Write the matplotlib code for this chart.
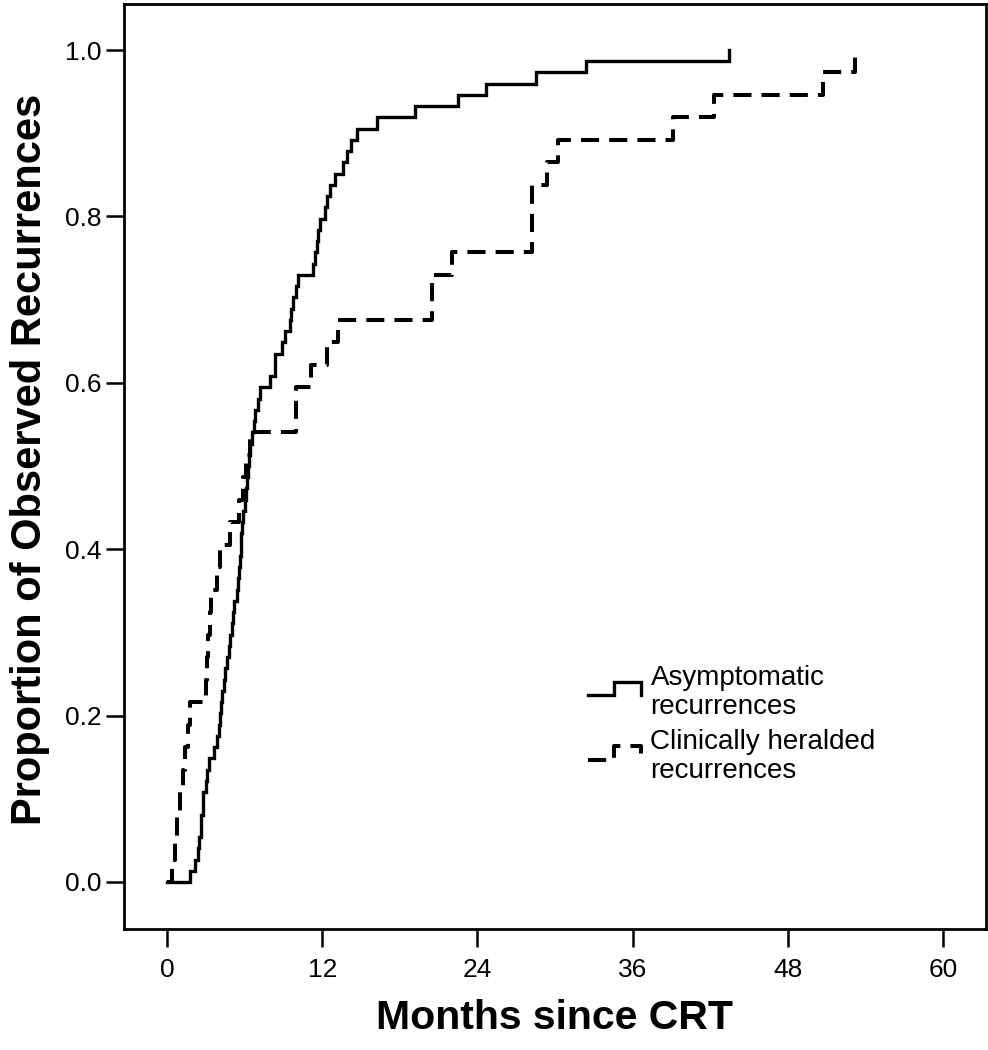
import numpy as np
import matplotlib
matplotlib.use("Agg")
import matplotlib.pyplot as plt
from matplotlib.lines import Line2D
from matplotlib.legend_handler import HandlerBase

# ---- data (months of each observed recurrence) ----
asymptomatic_times = [
    1.8, 2.15, 2.4, 2.5, 2.6, 2.65, 2.75, 2.8, 3.0, 3.1,
    3.25, 3.6, 3.9, 4.0, 4.1, 4.2, 4.25, 4.4, 4.5, 4.65,
    4.8, 4.9, 5.0, 5.1, 5.2, 5.4, 5.5, 5.6, 5.65, 5.7,
    5.75, 5.8, 5.9, 6.0, 6.1, 6.2, 6.25, 6.3, 6.45, 6.55,
    6.7, 6.8, 7.0, 7.2, 8.0, 8.35, 8.35, 8.9, 9.1, 9.5,
    9.6, 9.75, 10.0, 10.1, 11.3, 11.45, 11.6, 11.7, 11.8, 12.2,
    12.4, 12.6, 13.0, 13.6, 13.9, 14.2, 14.7, 16.2, 19.2, 22.5,
    24.7, 28.5, 32.4, 43.5,
]
clinical_times = [
    0.4, 0.6, 0.8, 1.0, 1.2, 1.4, 1.6, 1.8,
    3.0, 3.1, 3.2, 3.3, 3.4, 3.9, 4.1, 4.9, 5.6, 5.9, 6.1, 6.4,
    10.0, 10.0, 11.1, 12.4, 13.2, 20.5, 20.5, 22.0,
    28.2, 28.2, 28.2, 29.4, 30.2, 39.1, 42.3, 50.7, 53.2,
]
series_labels = ["Asymptomatic\nrecurrences", "Clinically heralded\nrecurrences"]
x_ticks = [0, 12, 24, 36, 48, 60]
y_ticks = [0.0, 0.2, 0.4, 0.6, 0.8, 1.0]
x_label = "Months since CRT"
y_label = "Proportion of Observed Recurrences"

plt.rcParams['font.family'] = ['Liberation Sans', 'DejaVu Sans']


def cumulative(times):
    t = np.sort(np.asarray(times, dtype=float))
    n = len(t)
    x = np.concatenate([[0.0], t])
    y = np.concatenate([[0.0], np.arange(1, n + 1) / n])
    return x, y


class StepHandler(HandlerBase):
    def create_artists(self, legend, orig_handle, xdescent, ydescent,
                       width, height, fontsize, trans):
        x0 = -xdescent
        y0 = -ydescent
        lo = y0 + 0.35 * height
        hi = y0 + 1.05 * height
        xs = [x0, x0 + 0.5 * width, x0 + 0.5 * width, x0 + width, x0 + width]
        ys = [lo, lo, hi, hi, lo]
        line = Line2D(xs, ys)
        line.update_from(orig_handle)
        line.set_transform(trans)
        return [line]


fig = plt.figure(figsize=(9.88, 10.5), dpi=100)
ax = fig.add_axes([124 / 988, 1 - 929 / 1050, (986 - 124) / 988, (929 - 4) / 1050])

xa, ya = cumulative(asymptomatic_times)
xc, yc = cumulative(clinical_times)

h1, = ax.step(xa, ya, where='post', color='black', lw=2.4,
              solid_joinstyle='miter')
h2, = ax.step(xc, yc, where='post', color='black', lw=2.9,
              linestyle=(0, (4.5, 2.5)), dash_capstyle='butt')

ax.set_xlim(-3.33, 63.34)
ax.set_ylim(-0.0565, 1.0553)
ax.set_xticks(x_ticks)
ax.set_xticklabels([str(v) for v in x_ticks])
ax.set_yticks(y_ticks)
ax.set_yticklabels([f"{v:.1f}" for v in y_ticks])
ax.tick_params(axis='both', direction='out', length=13, width=1.8,
               labelsize=19, colors='black')
ax.tick_params(axis='x', pad=8)
ax.tick_params(axis='y', pad=3)
for s in ax.spines.values():
    s.set_linewidth(2.0)
    s.set_color('black')

ax.set_xlabel(x_label, fontsize=29.5, fontweight='bold', labelpad=12)
ax.set_ylabel(y_label, fontsize=30, fontweight='bold')
ax.yaxis.set_label_coords(-0.086, 0.508)

leg = ax.legend([h1, h2], series_labels,
                handler_map={h1: StepHandler(), h2: StepHandler()},
                loc='upper left', bbox_to_anchor=(588 / 988, 1 - 665 / 1050),
                bbox_transform=fig.transFigure, frameon=False,
                fontsize=20, handlelength=1.9, handletextpad=0.35,
                borderpad=0, borderaxespad=0, labelspacing=0.35)
for t in leg.get_texts():
    t.set_linespacing(1.13)

fig.savefig("out.png", dpi=100)
